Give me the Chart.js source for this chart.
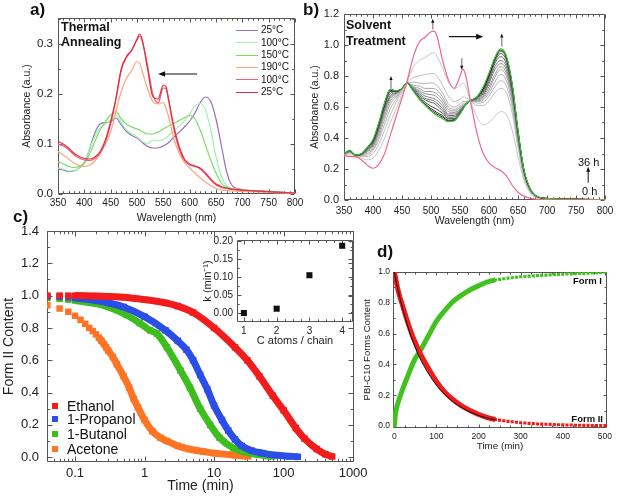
<!DOCTYPE html>
<html>
<head>
<meta charset="utf-8">
<script src="https://cdn.jsdelivr.net/npm/chart.js@4.4.1/dist/chart.umd.min.js"></script>
<style>
  body { margin: 0; background: #fff; }
  #fig { position: relative; width: 617px; height: 496px; overflow: hidden; background: #fff;
         font-family: "Liberation Sans", Arial, sans-serif; color: #111; }
  #fig canvas { position: absolute; }
  .t { position: absolute; white-space: nowrap; line-height: 1; }
  .lab { font-weight: bold; font-size: 17px; }
  .note { font-weight: bold; font-size: 12.5px; line-height: 15px; }
  .lg { position: absolute; font-size: 10px; line-height: 12px; white-space: nowrap; }
  .lg i { display: inline-block; width: 22px; border-top: 1.5px solid; vertical-align: middle; margin-right: 3px; }
  .lc { position: absolute; font-size: 14px; line-height: 15px; white-space: nowrap; }
  .lc i { display: inline-block; width: 6px; height: 6px; vertical-align: middle; margin: -2px 9px 0 0; }
</style>
</head>
<body>
<div id="fig">
  <canvas id="ca" width="310" height="226" style="left:0;top:0"></canvas>
  <canvas id="cb" width="322" height="228" style="left:300px;top:0"></canvas>
  <canvas id="cc" width="385" height="281" style="left:0;top:215px"></canvas>
  <canvas id="ci" width="172" height="120" style="left:198px;top:230px"></canvas>
  <canvas id="cd" width="262" height="212" style="left:360px;top:240px"></canvas>

  <div class="t lab" style="left:30px;top:1px">a)</div>
  <div class="t lab" style="left:303px;top:1px">b)</div>
  <div class="t lab" style="left:13px;top:208px">c)</div>
  <div class="t lab" style="left:377px;top:243px">d)</div>

  <div class="t note" style="left:61px;top:20px">Thermal<br>Annealing</div>
  <div class="t note" style="left:346px;top:17px;line-height:16px">Solvent<br>Treatment</div>

  <div id="legA"></div>
  <div id="legC"></div>

  <div class="t" style="left:578px;top:157px;font-size:11px">36 h</div>
  <div class="t" style="left:582px;top:186px;font-size:11px">0 h</div>
  <div class="t" style="right:15px;top:276px;font-size:9.5px;font-weight:bold">Form I</div>
  <div class="t" style="right:14px;top:414px;font-size:9.5px;font-weight:bold">Form II</div>
</div>
<script>
const FONT = '"Liberation Sans", Arial, sans-serif';

// ---------- a) thermal annealing ----------
const wlA = [350,360,370,380,390,400,410,420,430,440,450,460,470,480,490,500,505,510,520,530,540,550,555,560,570,580,590,600,610,620,630,640,650,660,670,680,700,750,800];
const a25 = [.050,.048,.045,.046,.052,.062,.090,.122,.140,.143,.145,.152,.138,.125,.117,.112,.108,.103,.095,.092,.092,.096,.099,.103,.114,.124,.134,.146,.162,.183,.194,.185,.150,.098,.045,.018,.009,.005,.002];
const a100 = [.052,.050,.046,.046,.052,.064,.090,.115,.132,.140,.148,.157,.143,.128,.120,.114,.110,.105,.100,.108,.106,.109,.112,.117,.126,.136,.146,.160,.176,.181,.168,.128,.075,.035,.017,.011,.008,.005,.002];
const a150 = [.065,.060,.055,.053,.055,.062,.080,.105,.128,.145,.158,.165,.150,.140,.134,.130,.128,.125,.120,.120,.124,.130,.133,.136,.141,.147,.152,.157,.150,.128,.098,.068,.042,.022,.014,.011,.008,.005,.002];
const a190 = [.085,.078,.070,.062,.057,.055,.058,.066,.080,.100,.124,.165,.205,.232,.247,.265,.262,.245,.210,.185,.180,.183,.172,.155,.110,.082,.063,.052,.042,.032,.024,.017,.011,.008,.007,.006,.005,.003,.001];
const a100c = [.100,.096,.089,.079,.072,.068,.067,.071,.082,.104,.140,.188,.247,.273,.287,.308,.316,.305,.258,.200,.182,.212,.211,.186,.130,.090,.067,.058,.055,.050,.040,.028,.018,.013,.011,.009,.007,.004,.002];
const a25c = [.105,.100,.092,.082,.075,.071,.070,.074,.085,.108,.145,.192,.250,.275,.288,.310,.320,.308,.250,.195,.190,.218,.215,.190,.135,.095,.070,.060,.056,.052,.042,.030,.020,.015,.012,.010,.008,.005,.002];
const tempLabels = ['25°C', '100°C', '150°C', '190°C', '100°C', '25°C'];
const xTicksA = [350,400,450,500,550,600,650,700,750,800];
const yTicksA = [0, 0.1, 0.2, 0.3];

// ---------- b) solvent treatment ----------
const wlB = [350,360,370,380,390,400,410,420,430,440,450,458,470,480,490,500,505,510,520,530,540,550,555,560,568,580,590,600,610,620,630,640,650,660,670,680,700,750,800];
const b0h = [.285,.280,.278,.260,.225,.205,.230,.300,.420,.540,.660,.755,.930,1.02,1.05,1.085,1.09,1.06,.900,.775,.720,.800,.845,.800,.640,.420,.300,.240,.210,.190,.155,.095,.050,.025,.012,.006,.003,.001,0];
const g1 = [.29,.29,.28,.27,.26,.27,.32,.40,.50,.59,.68,.755,.86,.90,.92,.945,.95,.93,.85,.76,.72,.74,.755,.73,.64,.53,.485,.50,.54,.57,.55,.45,.28,.13,.05,.02,.008,.003,.001];
const g2 = [.29,.30,.285,.28,.28,.30,.36,.45,.55,.63,.70,.755,.79,.80,.81,.815,.815,.80,.74,.67,.635,.65,.665,.66,.64,.61,.61,.64,.69,.72,.69,.56,.34,.15,.06,.022,.008,.003,.001];
const g3 = [.295,.305,.285,.285,.29,.32,.39,.49,.59,.65,.71,.755,.76,.755,.75,.755,.755,.74,.69,.62,.60,.62,.635,.635,.64,.625,.63,.67,.73,.77,.735,.60,.36,.16,.065,.024,.009,.004,.001];
const g4 = [.295,.31,.285,.29,.30,.33,.41,.52,.62,.665,.715,.755,.74,.735,.72,.72,.72,.71,.665,.60,.585,.605,.62,.625,.64,.635,.645,.69,.76,.81,.77,.63,.38,.17,.068,.025,.009,.004,.001];
const g5 = [.295,.31,.285,.29,.31,.34,.43,.545,.64,.675,.72,.755,.73,.72,.70,.70,.695,.685,.645,.585,.575,.595,.61,.62,.64,.64,.655,.71,.79,.84,.80,.655,.39,.175,.07,.026,.01,.004,.001];
const g6 = [.297,.312,.287,.292,.315,.35,.445,.565,.655,.685,.72,.755,.725,.705,.685,.68,.675,.665,.625,.57,.565,.585,.605,.615,.64,.645,.665,.73,.81,.86,.82,.67,.40,.18,.072,.027,.01,.004,.001];
const g7 = [.297,.313,.287,.293,.32,.36,.455,.58,.665,.69,.72,.755,.72,.695,.67,.66,.655,.645,.605,.555,.555,.58,.60,.612,.64,.65,.675,.75,.84,.88,.84,.685,.41,.185,.074,.028,.01,.004,.001];
const g8 = [.298,.315,.288,.295,.325,.365,.465,.59,.675,.695,.72,.755,.715,.685,.655,.645,.64,.625,.59,.545,.545,.575,.597,.615,.64,.655,.685,.765,.86,.90,.86,.70,.42,.19,.076,.029,.01,.005,.002];
const g9 = [.298,.316,.289,.296,.33,.372,.475,.60,.69,.70,.72,.755,.71,.675,.645,.63,.625,.61,.575,.535,.535,.57,.593,.617,.64,.66,.695,.78,.88,.925,.88,.715,.43,.193,.077,.029,.01,.005,.002];
const g10 = [.299,.318,.289,.297,.335,.378,.485,.61,.70,.702,.72,.755,.705,.665,.63,.605,.595,.585,.56,.525,.525,.565,.59,.618,.64,.663,.705,.795,.895,.945,.90,.73,.44,.196,.078,.03,.01,.005,.002];
const g11 = [.30,.319,.29,.298,.337,.383,.49,.62,.707,.703,.72,.755,.703,.658,.62,.59,.578,.565,.545,.515,.518,.56,.588,.619,.64,.666,.715,.805,.905,.96,.915,.74,.445,.198,.079,.03,.01,.005,.002];
const g12 = [.30,.32,.29,.299,.339,.387,.495,.625,.712,.704,.72,.755,.701,.654,.615,.58,.568,.555,.535,.51,.513,.557,.586,.62,.64,.668,.72,.81,.912,.968,.923,.745,.448,.199,.08,.03,.01,.005,.002];
const b36h = [.30,.32,.29,.30,.34,.39,.50,.63,.715,.705,.72,.755,.70,.65,.61,.575,.56,.545,.525,.505,.51,.555,.585,.62,.64,.67,.73,.82,.92,.975,.93,.75,.45,.20,.08,.03,.01,.005,.002];
const bSteps = [g1, g2, g3, g4, g5, g6, g7, g8, g9, g10, g11, g12];
const xTicksB = [350,400,450,500,550,600,650,700,750,800];
const yTicksB = [0, 0.2, 0.4, 0.6, 0.8, 1.0, 1.2];

// ---------- c) form II content vs time ----------
const timeEth = [0.04,0.06,0.08,0.1,0.2,0.5,1,2,3,5,10,20,30,45,70,100,150,200,300,400,500];
const formEth = [1.0,1.0,1.0,1.0,0.997,0.99,0.975,0.955,0.935,0.895,0.80,0.68,0.60,0.50,0.38,0.29,0.18,0.115,0.05,0.018,0.004];
const timePro = [0.04,0.06,0.08,0.1,0.2,0.3,0.5,1,2,3,4,5,6.3,8,10,13,16,20,25,35,50,80,120,160];
const formPro = [0.995,0.993,0.99,0.985,0.97,0.955,0.93,0.87,0.785,0.72,0.665,0.60,0.51,0.42,0.32,0.23,0.165,0.11,0.07,0.04,0.025,0.012,0.006,0.002];
const timeBut = [0.04,0.06,0.08,0.1,0.2,0.3,0.55,0.85,1.2,1.5,2.1,3.3,4.5,6.3,8.8,12,19,37,68];
const formBut = [0.985,0.98,0.975,0.97,0.95,0.93,0.88,0.83,0.785,0.765,0.68,0.535,0.43,0.30,0.20,0.12,0.056,0.02,0.005];
const timeAce = [0.04,0.06,0.08,0.10,0.12,0.14,0.16,0.18,0.20,0.22,0.24,0.26,0.28,0.30,0.35,0.40,0.50,0.60,0.70,0.80,1.0,1.3,1.7,2.1,3,4.4,7,10,20,31];
const formAce = [0.94,0.92,0.90,0.875,0.85,0.825,0.80,0.78,0.76,0.74,0.72,0.70,0.68,0.66,0.62,0.575,0.50,0.43,0.36,0.31,0.23,0.16,0.12,0.10,0.07,0.05,0.035,0.025,0.012,0.005];
const solvents = ['Ethanol', '1-Propanol', '1-Butanol', 'Acetone'];
const xTicksC = [0.1, 1, 10, 100, 1000];
const yTicksC = [0, 0.2, 0.4, 0.6, 0.8, 1.0, 1.2, 1.4];

// inset: rate constant vs chain length
const cAtoms = [1, 2, 3, 4];
const kRate = [0.0, 0.012, 0.105, 0.187];
const yTicksI = [0, 0.05, 0.10, 0.15, 0.20];

// ---------- d) PBI-C10 forms ----------
const timeD = [0,2,5,10,20,30,40,50,60,80,100,120,140,160,180,200,220,240,250,260,270,280,290,300,310,320,330,340,350,360,370,380,390,400,410,420,430,440,450,460,470,480,490,500];
const formII = [1.0,0.975,0.935,0.87,0.78,0.69,0.61,0.54,0.48,0.38,0.29,0.22,0.17,0.13,0.10,0.075,0.055,0.042,0.038,0.034,0.030,0.027,0.024,0.021,0.019,0.017,0.015,0.013,0.012,0.011,0.010,0.009,0.008,0.007,0.006,0.006,0.005,0.005,0.004,0.004,0.003,0.003,0.003,0.002];
const formI = [0,0.06,0.11,0.16,0.24,0.31,0.38,0.44,0.48,0.58,0.68,0.75,0.81,0.85,0.885,0.91,0.935,0.948,0.952,0.956,0.960,0.963,0.966,0.969,0.971,0.973,0.975,0.977,0.978,0.980,0.981,0.983,0.984,0.985,0.987,0.988,0.989,0.990,0.991,0.993,0.994,0.995,0.997,0.998];
const timeFit = [0,10,20,30,40,50,60,80,100,120,140,160,180,200,220,240];
const fitII = [1.0,0.87,0.76,0.665,0.58,0.51,0.445,0.345,0.265,0.205,0.155,0.12,0.09,0.068,0.052,0.04];
const xTicksD = [0, 100, 200, 300, 400, 500];
const yTicksD = [0, 0.2, 0.4, 0.6, 0.8, 1.0];

// ---------- helpers ----------
const pts = (xs, ys) => xs.map((x, i) => ({x, y: ys[i]}));

function axis(o) {
  return {
    type: o.type || 'linear', min: o.min, max: o.max,
    grid: {display: false, drawTicks: false},
    border: {display: false},
    afterFit: s => { if (s.isHorizontal()) s.height = o.size; else s.width = o.size; },
    afterBuildTicks: s => { s.ticks = o.ticks.map(v => ({value: v})); },
    ticks: {autoSkip: false, maxRotation: 0, padding: o.pad, color: '#222',
            font: {family: FONT, size: o.font}, callback: o.fmt},
    title: {display: true, text: o.title, color: '#222',
            font: {family: FONT, size: o.tfont}, padding: o.tpad}
  };
}

function minorVals(s, sub) {
  const out = [];
  if (s.type === 'logarithmic') {
    for (let e = Math.floor(Math.log10(s.min)); e <= Math.ceil(Math.log10(s.max)); e++)
      for (let m = 2; m < 10; m++) {
        const v = m * Math.pow(10, e);
        if (v > s.min && v < s.max) out.push(v);
      }
    return out;
  }
  const t = s.ticks.map(k => k.value);
  if (!sub || t.length < 2) return out;
  const big = t[1] - t[0], step = big / sub;
  for (let v = t[0] - big; v <= s.max; v += step) {
    if (v > s.min && v < s.max && !t.some(k => Math.abs(k - v) < step / 10)) out.push(v);
  }
  return out;
}

// box round the plot with ticks pointing inwards on all four sides
const frameTicks = {
  id: 'frameTicks',
  beforeDatasetsDraw(chart, args, o) {
    const {ctx, chartArea: a} = chart;
    const L = Math.round(a.left) + 0.5, R = Math.round(a.right) - 0.5;
    const T = Math.round(a.top) + 0.5, B = Math.round(a.bottom) - 0.5;
    ctx.save();
    ctx.strokeStyle = '#555';
    ctx.lineWidth = 1;
    ctx.beginPath();
    ctx.rect(L, T, R - L, B - T);
    const mark = (s, v, len) => {
      const p = Math.round(s.getPixelForValue(v)) + 0.5;
      if (s.isHorizontal()) { ctx.moveTo(p, B); ctx.lineTo(p, B - len); ctx.moveTo(p, T); ctx.lineTo(p, T + len); }
      else { ctx.moveTo(L, p); ctx.lineTo(L + len, p); ctx.moveTo(R, p); ctx.lineTo(R - len, p); }
    };
    [[chart.scales.x, o.xSub], [chart.scales.y, o.ySub]].forEach(([s, sub]) => {
      s.ticks.forEach(k => mark(s, k.value, o.len));
      minorVals(s, sub).forEach(v => mark(s, v, Math.max(2, o.len * 0.55)));
    });
    ctx.stroke();
    ctx.restore();
  }
};

function makeArrows(items) {
  return {
    id: 'arrowMarks',
    afterDatasetsDraw(chart) {
      const {ctx, scales: {x, y}} = chart;
      items.forEach(a => {
        const x0 = x.getPixelForValue(a.from[0]), y0 = y.getPixelForValue(a.from[1]);
        const x1 = x.getPixelForValue(a.to[0]), y1 = y.getPixelForValue(a.to[1]);
        const ang = Math.atan2(y1 - y0, x1 - x0), h = a.head, c = Math.cos(ang), s = Math.sin(ang);
        ctx.save();
        ctx.strokeStyle = a.shaft; ctx.lineWidth = a.width;
        ctx.beginPath(); ctx.moveTo(x0, y0); ctx.lineTo(x1 - c * h * 0.8, y1 - s * h * 0.8); ctx.stroke();
        ctx.fillStyle = a.tip;
        ctx.beginPath(); ctx.moveTo(x1, y1);
        ctx.lineTo(x1 - h * c + h * 0.4 * s, y1 - h * s - h * 0.4 * c);
        ctx.lineTo(x1 - h * c - h * 0.4 * s, y1 - h * s + h * 0.4 * c);
        ctx.closePath(); ctx.fill();
        ctx.restore();
      });
    }
  };
}

const base = {responsive: false, animation: false, events: []};
const fx1 = v => v.toFixed(1);

// ---------- chart a ----------
const colorsA = ['#9470b8', '#9ef2b6', '#78e060', '#ffa676', '#e4607e', '#ea2a40'];
const seriesA = [a25, a100, a150, a190, a100c, a25c];
new Chart(document.getElementById('ca'), {
  type: 'line',
  data: {
    labels: wlA,
    datasets: seriesA.map((d, i) => ({
      label: tempLabels[i], data: pts(wlA, d), borderColor: colorsA[i], borderWidth: 1.2,
      pointRadius: 0, cubicInterpolationMode: 'monotone'
    })).reverse()
  },
  options: Object.assign({}, base, {
    layout: {padding: {left: 0, top: 18, right: 15, bottom: 0}},
    plugins: {legend: {display: false}, tooltip: {enabled: false},
              frameTicks: {len: 4, xSub: 5, ySub: 2}},
    scales: {
      x: axis({min: 350, max: 800, ticks: xTicksA, size: 32, pad: 3, font: 10, fmt: v => v,
               title: 'Wavelength (nm)', tfont: 10.5, tpad: {top: 0, bottom: 2}}),
      y: axis({min: 0, max: 0.352, ticks: yTicksA, size: 58, pad: 5, font: 11.5, fmt: fx1,
               title: 'Absorbance (a.u.)', tfont: 10.5, tpad: {top: 21, bottom: 0}})
    }
  }),
  plugins: [frameTicks, makeArrows([
    {from: [614, 0.24], to: [540, 0.24], shaft: '#111', tip: '#111', width: 1, head: 7}
  ])]
});

// ---------- chart b ----------
const grays = ['#c6c6c6','#bdbdbd','#b3b3b3','#a8a8a8','#9c9c9c','#8f8f8f','#808080','#6f6f6f','#5c5c5c','#474747','#333333','#1e1e1e'];
const setsB = [
  {label: '0 h', data: pts(wlB, b0h), borderColor: '#f2678c', borderWidth: 1.2},
  {label: '36 h', data: pts(wlB, b36h), borderColor: '#3cc03c', borderWidth: 1.2}
];
for (let i = bSteps.length - 1; i >= 0; i--) {
  setsB.push({label: 'step ' + (i + 1), data: pts(wlB, bSteps[i]), borderColor: grays[i], borderWidth: 1});
}
setsB.forEach(s => { s.pointRadius = 0; s.cubicInterpolationMode = 'monotone'; });
new Chart(document.getElementById('cb'), {
  type: 'line',
  data: {datasets: setsB},
  options: Object.assign({}, base, {
    layout: {padding: {left: 0, top: 14, right: 17, bottom: 0}},
    plugins: {legend: {display: false}, tooltip: {enabled: false},
              frameTicks: {len: 4, xSub: 5, ySub: 2}},
    scales: {
      x: axis({min: 350, max: 800, ticks: xTicksB, size: 28, pad: 5, font: 10, fmt: v => v,
               title: 'Wavelength (nm)', tfont: 10.5, tpad: {top: 0, bottom: 1}}),
      y: axis({min: 0, max: 1.2, ticks: yTicksB, size: 44, pad: 5, font: 11, fmt: fx1,
               title: 'Absorbance (a.u.)', tfont: 10.5, tpad: {top: 9, bottom: 0}})
    }
  }),
  plugins: [frameTicks, makeArrows([
    {from: [531, 1.054], to: [590, 1.054], shaft: '#111', tip: '#111', width: 1.2, head: 7},
    {from: [431, 0.72], to: [431, 0.80], shaft: '#999', tip: '#111', width: 1.5, head: 4},
    {from: [503, 1.10], to: [503, 1.17], shaft: '#999', tip: '#111', width: 1.5, head: 4},
    {from: [553, 0.915], to: [553, 0.84], shaft: '#999', tip: '#111', width: 1.5, head: 4},
    {from: [622, 0.99], to: [622, 1.075], shaft: '#999', tip: '#111', width: 1.5, head: 4},
    {from: [771, 0.112], to: [771, 0.215], shaft: '#111', tip: '#111', width: 1, head: 5}
  ])]
});

// ---------- chart c ----------
const colorsC = ['#f21c1c', '#2b4ee6', '#3dbd1e', '#ff7424'];
const timesC = [timeEth, timePro, timeBut, timeAce];
const formsC = [formEth, formPro, formBut, formAce];
const looseUntil = [0.1, 0.1, 0.1, 0.22];   // early samples are drawn as separate squares
new Chart(document.getElementById('cc'), {
  type: 'line',
  data: {
    datasets: solvents.map((name, i) => ({
      label: name, data: pts(timesC[i], formsC[i]),
      borderColor: colorsC[i], backgroundColor: colorsC[i], borderWidth: 7,
      pointStyle: 'rect', pointRadius: 4.6, pointBorderWidth: 0,
      cubicInterpolationMode: 'monotone', borderCapStyle: 'butt',
      segment: {borderColor: c => c.p0.parsed.x < looseUntil[i] - 1e-9 ? 'rgba(0,0,0,0)' : undefined}
    }))
  },
  options: Object.assign({}, base, {
    layout: {padding: {left: 0, top: 16, right: 31, bottom: 0}},
    plugins: {legend: {display: false}, tooltip: {enabled: false},
              frameTicks: {len: 5, xSub: 0, ySub: 2}},
    scales: {
      x: axis({type: 'logarithmic', min: 0.0395, max: 1030, ticks: xTicksC, size: 34, pad: 4, font: 13,
               fmt: v => String(v), title: 'Time (min)', tfont: 14, tpad: {top: 0, bottom: 1}}),
      y: axis({min: -0.03, max: 1.4, ticks: yTicksC, size: 47, pad: 8, font: 13, fmt: fx1,
               title: 'Form II Content', tfont: 14, tpad: {top: 1, bottom: 0}})
    }
  }),
  plugins: [frameTicks]
});

// ---------- inset ----------
new Chart(document.getElementById('ci'), {
  type: 'scatter',
  data: {datasets: [{label: 'k', data: pts(cAtoms, kRate), backgroundColor: '#111', borderWidth: 0,
                     pointStyle: 'rect', pointRadius: 4.3}]},
  options: Object.assign({}, base, {
    layout: {padding: {left: 0, top: 10, right: 17, bottom: 0}},
    plugins: {legend: {display: false}, tooltip: {enabled: false},
              frameTicks: {len: 4, xSub: 4, ySub: 2}},
    scales: {
      x: axis({min: 0.79, max: 4.33, ticks: cAtoms, size: 28, pad: 3, font: 10, fmt: v => v,
               title: 'C atoms / chain', tfont: 11, tpad: {top: 0, bottom: 2}}),
      y: axis({min: -0.025, max: 0.203, ticks: yTicksI, size: 39, pad: 4, font: 10, fmt: v => v.toFixed(2),
               title: 'k (min\u207B\u00B9)', tfont: 11, tpad: {top: 3, bottom: 0}})
    }
  }),
  plugins: [frameTicks]
});

// ---------- chart d ----------
const denseUntil = 240;   // after this the samples are drawn as separate squares
const bandD = (label, ys, color) => ({
  label, data: pts(timeD, ys), borderColor: color, backgroundColor: color, borderWidth: 5,
  pointStyle: 'rect', pointRadius: 2.2, pointBorderWidth: 0, cubicInterpolationMode: 'monotone',
  segment: {borderColor: c => c.p0.parsed.x >= denseUntil ? 'rgba(0,0,0,0)' : undefined}
});
new Chart(document.getElementById('cd'), {
  type: 'line',
  data: {
    datasets: [
      {label: 'fit', data: pts(timeFit, fitII), borderColor: '#111', borderWidth: 1, pointRadius: 0,
       cubicInterpolationMode: 'monotone'},
      bandD('Form II', formII, '#f01c1c'),
      bandD('Form I', formI, '#42c21e')
    ]
  },
  options: Object.assign({}, base, {
    layout: {padding: {left: 0, top: 32, right: 15, bottom: 0}},
    plugins: {legend: {display: false}, tooltip: {enabled: false},
              frameTicks: {len: 3, xSub: 4, ySub: 2}},
    scales: {
      x: axis({min: -3, max: 505, ticks: xTicksD, size: 24.5, pad: 4, font: 8.5, fmt: v => v,
               title: 'Time (min)', tfont: 9.8, tpad: {top: 0, bottom: 0}}),
      y: axis({min: -0.01, max: 1.0, ticks: yTicksD, size: 33, pad: 3, font: 8.5, fmt: fx1,
               title: 'PBI-C10 Forms Content', tfont: 9.5, tpad: {top: 1.5, bottom: 0}})
    }
  }),
  plugins: [frameTicks]
});

// ---------- legends (html text) ----------
const legA = document.getElementById('legA');
const rowsA = [30, 42.5, 55, 67, 79.5, 92];
tempLabels.forEach((t, i) => {
  const d = document.createElement('div');
  d.className = 'lg';
  d.style.left = '236px';
  d.style.top = (rowsA[i] - 6) + 'px';
  d.innerHTML = '<i style="border-color:' + colorsA[i] + '"></i>' + t;
  legA.appendChild(d);
});
const legC = document.getElementById('legC');
const rowsC = [406, 419.5, 434, 449.5];
solvents.forEach((t, i) => {
  const d = document.createElement('div');
  d.className = 'lc';
  d.style.left = '52px';
  d.style.top = (rowsC[i] - 7.5) + 'px';
  d.innerHTML = '<i style="background:' + colorsC[i] + '"></i>' + t;
  legC.appendChild(d);
});
</script>
</body>
</html>
